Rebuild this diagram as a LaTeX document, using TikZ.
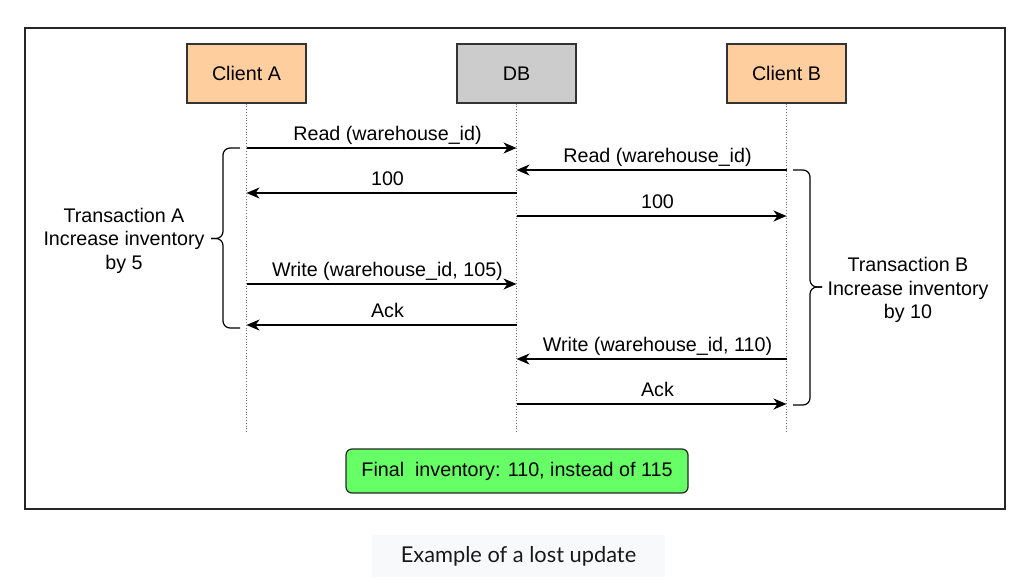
\documentclass[tikz,border=0pt]{standalone}
\usepackage{fontspec}
\setmainfont{Liberation Sans}
\newfontfamily\captionfont{Lato}
\usetikzlibrary{arrows.meta}
\definecolor{clientorange}{RGB}{255,206,158}
\definecolor{dbgray}{RGB}{204,204,204}
\definecolor{finalgreen}{RGB}{102,255,102}
\definecolor{captionbg}{RGB}{248,249,250}
\newcommand\msgfont{\fontsize{19.7}{23.5}\selectfont}
\tikzset{block/.style    = {rectangle, draw=black!80, line width=1.2pt, minimum width=119pt,
		minimum height=59pt, font=\msgfont},
	lifeline/.style = {draw=black!55, dotted, line width=0.8pt},
	line/.style     = {draw, line width=1.2pt, -{Stealth[length=13pt,width=11pt,inset=4pt]}},
	msg/.style      = {midway, anchor=center, yshift=12.3pt, xshift=6pt, font=\msgfont,
		text height=14pt, text depth=4.5pt, inner sep=0pt},
	bracket/.style  = {draw, line width=1.2pt, rounded corners=7pt},
	note/.style     = {align=center, font=\msgfont},
	final/.style    = {rectangle, draw=black!85, fill=finalgreen, line width=1.2pt, rounded
		corners=6pt, minimum width=342pt, minimum height=44pt, font=\msgfont}
}

\begin{document}
\begin{tikzpicture}[x=1pt, y=-1pt]
		\useasboundingbox (0,0) rectangle (1033,580);
		\draw[line width=1.3pt, black!85] (25,28) rectangle (1005,509);
		\node [block, fill=clientorange] (cla) at (246.5,73.5) {Client A};
		\node [block, fill=dbgray, right of=cla, node distance=270pt] (db) {DB};
		\node [block, fill=clientorange, right of=db, node distance=270pt] (clb) {Client B};
		\draw[lifeline] (cla.south) -- ++(0,330);
		\draw[lifeline] (db.south) -- ++(0,330);
		\draw[lifeline] (clb.south) -- ++(0,330);
		\path[line] (cla |- 0,148) -- (db |- 0,148) node[msg]{Read (warehouse\_id)};
		\path[line] (clb |- 0,170) -- (db |- 0,170) node[msg]{Read (warehouse\_id)};
		\path[line] (db |- 0,193) -- (cla |- 0,193) node[msg]{100};
		\path[line] (db |- 0,216) -- (clb |- 0,216) node[msg]{100};
		\path[line] (cla |- 0,284) -- (db |- 0,284) node[msg]{Write (warehouse\_id, 105)};
		\path[line] (db |- 0,325) -- (cla |- 0,325) node[msg]{Ack};
		\path[line] (clb |- 0,359) -- (db |- 0,359) node[msg]{Write (warehouse\_id, 110)};
		\path[line] (db |- 0,404) -- (clb |- 0,404) node[msg]{Ack};
		\draw[bracket] (240,148) -- (223,148) -- (223,238.5) -- (211,238.5);
		\draw[bracket] (240,328) -- (223,328) -- (223,238.5) -- (211,238.5);
		\node [note] (notea) at (124,240.5) {Transaction A\\Increase inventory\\by 5};
		\draw[bracket] (793,170) -- (810,170) -- (810,287) -- (822,287);
		\draw[bracket] (793,405) -- (810,405) -- (810,287) -- (822,287);
		\node [note] (noteb) at (908,290) {Transaction B\\Increase inventory\\by 10};
		\node [final] (fin) at (517,471) {Final\ \ inventory: 110, instead of 115};
		\node [fill=captionbg, minimum width=293pt, minimum height=42pt, text=black!90,
			font=\captionfont\fontsize{21.8}{26}\selectfont] (caption) at (518.5,556) {Example of a lost update};
	\end{tikzpicture}
\end{document}
